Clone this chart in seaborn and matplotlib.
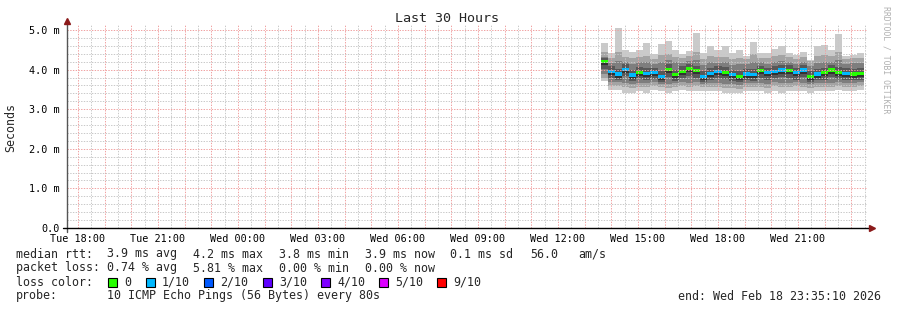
import numpy as np
import pandas as pd
import matplotlib
matplotlib.use("Agg")
import matplotlib.pyplot as plt
import matplotlib.dates as mdates
import seaborn as sns

# ---------------- data ----------------
bar_start = "2026-02-18 13:36"
n_bars = 37
step_minutes = 16
window_start = "2026-02-17 17:35:10"
window_end = "2026-02-18 23:35:10"

median_ms = [4.20, 3.96, 3.89, 4.01, 3.86, 3.93, 3.91, 3.93, 3.83, 4.00, 3.87, 3.95, 4.03, 3.97,
             3.83, 3.91, 3.95, 3.93, 3.87, 3.83, 3.89, 3.88, 3.97, 3.92, 3.96, 3.99, 3.98, 3.92,
             3.99, 3.83, 3.89, 3.92, 3.99, 3.93, 3.90, 3.89, 3.90]
loss_pct = [0, 0.83, 0.83, 1.67, 0.83, 0, 0.83, 0.83, 5.81, 0, 0, 0, 0, 0, 0.83, 0.83, 0.83, 0,
            1.67, 0, 0.83, 0.83, 0, 0.83, 0.83, 0.83, 0, 1.67, 0.83, 0, 0.83, 0, 0, 0, 0.83, 0, 0]
# sorted ping values (p1 lowest ... p10 highest), ms
p10 = [4.66, 4.43, 5.05, 4.50, 4.45, 4.49, 4.66, 4.40, 4.64, 4.71, 4.50, 4.40, 4.48, 4.92, 4.42,
       4.60, 4.49, 4.60, 4.42, 4.50, 4.34, 4.70, 4.41, 4.41, 4.53, 4.60, 4.43, 4.38, 4.45, 4.24,
       4.60, 4.62, 4.50, 4.90, 4.34, 4.38, 4.41]
p9 = [4.45, 4.30, 4.45, 4.32, 4.30, 4.33, 4.35, 4.28, 4.38, 4.40, 4.32, 4.30, 4.35, 4.45, 4.28,
      4.35, 4.32, 4.33, 4.28, 4.30, 4.27, 4.40, 4.30, 4.30, 4.35, 4.37, 4.32, 4.28, 4.33, 4.22,
      4.35, 4.37, 4.35, 4.45, 4.28, 4.30, 4.30]
p8 = [4.32, 4.17, 4.22, 4.20, 4.15, 4.18, 4.20, 4.15, 4.18, 4.24, 4.18, 4.17, 4.22, 4.25, 4.12,
      4.18, 4.17, 4.18, 4.12, 4.14, 4.15, 4.20, 4.18, 4.15, 4.20, 4.22, 4.20, 4.15, 4.20, 4.10,
      4.17, 4.20, 4.20, 4.25, 4.15, 4.16, 4.17]
p7 = [4.30, 4.08, 4.02, 4.13, 3.99, 4.06, 4.04, 4.05, 3.96, 4.13, 4.00, 4.08, 4.15, 4.10, 3.96,
      4.04, 4.08, 4.06, 3.99, 3.96, 4.02, 4.01, 4.10, 4.05, 4.09, 4.12, 4.11, 4.05, 4.12, 3.96,
      4.02, 4.05, 4.12, 4.06, 4.03, 4.02, 4.03]
p6 = [4.23, 3.99, 3.92, 4.04, 3.89, 3.96, 3.94, 3.96, 3.86, 4.03, 3.90, 3.98, 4.06, 4.00, 3.86,
      3.94, 3.98, 3.96, 3.90, 3.86, 3.92, 3.91, 4.00, 3.95, 3.99, 4.02, 4.01, 3.95, 4.02, 3.86,
      3.92, 3.95, 4.02, 3.96, 3.93, 3.92, 3.93]
p5 = [4.11, 3.87, 3.80, 3.92, 3.77, 3.84, 3.82, 3.84, 3.74, 3.91, 3.78, 3.86, 3.94, 3.88, 3.74,
      3.82, 3.86, 3.84, 3.78, 3.74, 3.80, 3.79, 3.88, 3.83, 3.87, 3.90, 3.89, 3.83, 3.90, 3.74,
      3.80, 3.83, 3.90, 3.84, 3.81, 3.80, 3.81]
p4 = [4.02, 3.79, 3.73, 3.83, 3.70, 3.77, 3.75, 3.77, 3.68, 3.82, 3.71, 3.78, 3.84, 3.80, 3.68,
      3.75, 3.78, 3.76, 3.71, 3.68, 3.73, 3.72, 3.80, 3.75, 3.79, 3.81, 3.80, 3.75, 3.81, 3.68,
      3.73, 3.75, 3.81, 3.77, 3.74, 3.73, 3.74]
p3 = [3.90, 3.68, 3.68, 3.66, 3.64, 3.67, 3.65, 3.68, 3.64, 3.63, 3.66, 3.68, 3.67, 3.68, 3.64,
      3.66, 3.67, 3.63, 3.63, 3.62, 3.66, 3.67, 3.66, 3.64, 3.68, 3.65, 3.67, 3.68, 3.67, 3.63,
      3.67, 3.67, 3.66, 3.69, 3.66, 3.67, 3.68]
p2 = [3.80, 3.58, 3.58, 3.55, 3.54, 3.57, 3.55, 3.58, 3.55, 3.53, 3.56, 3.58, 3.57, 3.58, 3.55,
      3.56, 3.57, 3.53, 3.53, 3.52, 3.56, 3.57, 3.56, 3.54, 3.58, 3.55, 3.57, 3.58, 3.57, 3.53,
      3.57, 3.57, 3.56, 3.59, 3.56, 3.57, 3.58]
p1 = [3.70, 3.49, 3.49, 3.42, 3.42, 3.45, 3.42, 3.49, 3.45, 3.40, 3.45, 3.49, 3.45, 3.47, 3.45,
      3.45, 3.46, 3.41, 3.41, 3.40, 3.45, 3.47, 3.45, 3.42, 3.47, 3.42, 3.45, 3.47, 3.45, 3.41,
      3.46, 3.46, 3.45, 3.49, 3.45, 3.47, 3.49]

smoke_colors = ["#cacaca", "#a4a4a4", "#7e7e7e", "#585858", "#323232"]
loss_levels = [0, 1, 2, 3, 4, 5, 9]
loss_labels = ["0", "1/10", "2/10", "3/10", "4/10", "5/10", "9/10"]
loss_colors = ["#26ff00", "#00b8ff", "#0059ff", "#5e00ff", "#7e00ff", "#dd00ff", "#ff0000"]

y_ticks = [0, 1, 2, 3, 4, 5]
y_tick_labels = ["0.0", "1.0 m", "2.0 m", "3.0 m", "4.0 m", "5.0 m"]
x_tick_times = ["2026-02-17 18:00", "2026-02-17 21:00", "2026-02-18 00:00", "2026-02-18 03:00",
                "2026-02-18 06:00", "2026-02-18 09:00", "2026-02-18 12:00", "2026-02-18 15:00",
                "2026-02-18 18:00", "2026-02-18 21:00"]
x_tick_labels = ["Tue 18:00", "Tue 21:00", "Wed 00:00", "Wed 03:00", "Wed 06:00",
                 "Wed 09:00", "Wed 12:00", "Wed 15:00", "Wed 18:00", "Wed 21:00"]

title = "Last 30 Hours"
y_label = "Seconds"
legend_rtt = [("median rtt:", 16), ("3.9 ms avg", 107), ("4.2 ms max", 193), ("3.8 ms min", 279),
              ("3.9 ms now", 365), ("0.1 ms sd", 450), ("56.0", 530), ("am/s", 578)]
legend_loss = [("packet loss:", 16), ("0.74 % avg", 107), ("5.81 % max", 193),
               ("0.00 % min", 279), ("0.00 % now", 365)]
legend_color_x = [108, 146, 204, 263, 321, 379, 437]
probe_text = "10 ICMP Echo Pings (56 Bytes) every 80s"
end_text = "end: Wed Feb 18 23:35:10 2026"
watermark = "RRDTOOL / TOBI OETIKER"

# ---------------- styling ----------------
sns.set_theme(style="white")
plt.rcParams["font.family"] = ["DejaVu Sans Mono", "DejaVu Sans"]

W, H = 897, 310
fig = plt.figure(figsize=(W / 100, H / 100), dpi=100)
fig.patch.set_facecolor("white")
ax_left, ax_right, ax_top, ax_bot = 67, 867, 25, 228
ax = fig.add_axes([ax_left / W, (H - ax_bot) / H, (ax_right - ax_left) / W, (ax_bot - ax_top) / H])
ax.set_facecolor("white")

ymax = 5.0 * (ax_bot - ax_top) / (ax_bot - 30)
ax.set_ylim(0, ymax)
t0 = mdates.date2num(pd.Timestamp(window_start))
t1 = mdates.date2num(pd.Timestamp(window_end))
ax.set_xlim(t0, t1)

times = pd.date_range(bar_start, periods=n_bars, freq=f"{step_minutes}min")
xnum = mdates.date2num(times)
width = step_minutes / 1440.0

bands = [(p1, p10), (p2, p9), (p3, p8), (p4, p7), (p5, p6)]
for (lo, hi), c in zip(bands, smoke_colors):
    lo = np.asarray(lo)
    hi = np.asarray(hi)
    ax.bar(xnum, hi - lo, bottom=lo, width=width, align="edge", color=c,
           linewidth=0, antialiased=False, zorder=2)

# median band coloured by loss
def loss_color(p):
    lost = p / 10.0  # pings of 10
    for lvl, col in zip(loss_levels, loss_colors):
        if lost <= lvl:
            return col
    return loss_colors[-1]

med = np.asarray(median_ms)
half = 0.042
ax.bar(xnum, 2 * half, bottom=med - half, width=width, align="edge",
       color=[loss_color(v) for v in loss_pct], linewidth=0, antialiased=False, zorder=3)

# grid (drawn over the data like rrdtool)
grid_kw = dict(lw=0.7, dashes=(1.4, 1.4), zorder=4)
hours = pd.date_range("2026-02-17 17:30", window_end, freq="30min")
for h in hours:
    hn = mdates.date2num(h)
    if hn <= t0 or hn >= t1:
        continue
    if h.minute == 0:
        ax.axvline(hn, color="#f0a0a0", **grid_kw)
    else:
        ax.axvline(hn, color="#c8c8c8", **grid_kw)
for v in np.arange(0.2, 5.01, 0.2):
    if abs(v - round(v)) < 1e-6:
        ax.axhline(v, color="#f0a0a0", **grid_kw)
    else:
        ax.axhline(v, color="#c8c8c8", **grid_kw)

for s in ax.spines.values():
    s.set_visible(False)

# axes lines and arrows
ax.plot([0, 0], [-4 / 203, 1.0 + 2 / 203], transform=ax.transAxes, color="#555555",
        lw=1.0, clip_on=False, zorder=5)
ax.plot([-4 / 800, 1.0 + 3 / 800], [0, 0], transform=ax.transAxes, color="black",
        lw=1.0, clip_on=False, zorder=5)
ax.plot([0], [1.0 + 4 / 203], marker="^", ms=4.5, color="#8b1a1a", transform=ax.transAxes,
        clip_on=False, zorder=6)
ax.plot([1.0 + 5 / 800], [0], marker=">", ms=4.5, color="#8b1a1a", transform=ax.transAxes,
        clip_on=False, zorder=6)

ax.set_yticks(y_ticks)
ax.set_yticklabels(y_tick_labels)
ax.set_xticks(mdates.date2num(pd.to_datetime(x_tick_times)))
ax.set_xticklabels(x_tick_labels)
ax.tick_params(axis="both", length=0, labelsize=7.3, colors="black")
ax.tick_params(axis="y", pad=5)
ax.tick_params(axis="x", pad=4.5)
ax.grid(False)

# texts
def px(x, y):
    return x / W, 1 - y / H

fig.text(*px(447, 19), title, ha="center", va="center", fontsize=9.6)
fig.text(*px(11, 127), y_label, ha="center", va="center", rotation=90, fontsize=8.4)
fig.text(*px(886, 60), watermark, ha="center", va="center", rotation=-90,
         fontsize=5.9, color="#b0b0b0")

fs = 8.4
for t, x in legend_rtt:
    fig.text(*px(x, 254), t, ha="left", va="center", fontsize=fs)
for t, x in legend_loss:
    fig.text(*px(x, 268), t, ha="left", va="center", fontsize=fs)
fig.text(*px(16, 282), "loss color:", ha="left", va="center", fontsize=fs)
for x, lab, col in zip(legend_color_x, loss_labels, loss_colors):
    fig.patches.append(plt.Rectangle((x / W, 1 - 287 / H), 9 / W, 9 / H, transform=fig.transFigure,
                                     facecolor=col, edgecolor="black", lw=0.8, figure=fig))
    fig.text(*px(x + 16, 282), lab, ha="left", va="center", fontsize=fs)
fig.text(*px(16, 296), "probe:", ha="left", va="center", fontsize=fs)
fig.text(*px(107, 296), probe_text, ha="left", va="center", fontsize=fs)
fig.text(*px(881, 296), end_text, ha="right", va="center", fontsize=fs)

fig.savefig("out.png", dpi=100, facecolor="white")
